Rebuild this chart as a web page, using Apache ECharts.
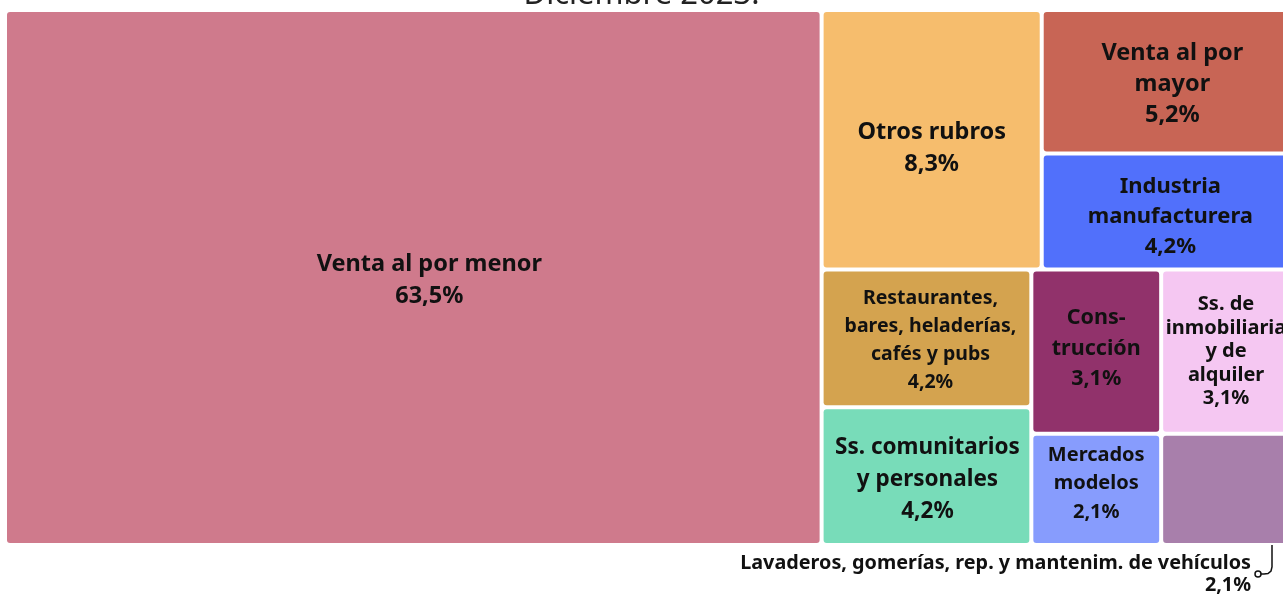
<!DOCTYPE html>
<html>
<head>
<meta charset="utf-8">
<title>Distribución por rubro - Diciembre 2023</title>
<script src="https://cdn.jsdelivr.net/npm/echarts@6/dist/echarts.min.js"></script>
<style>
  html, body { margin: 0; padding: 0; background: #fff; }
  #chart { width: 1283px; height: 597px; }
</style>
</head>
<body>
<div id="chart"></div>
<script>
// rubros, in the order the chart nests them
const rubros = [
  'Venta al por menor',
  'Otros rubros',
  'Venta al por mayor',
  'Industria manufacturera',
  'Restaurantes, bares, heladerías, cafés y pubs',
  'Ss. comunitarios y personales',
  'Construcción',
  'Ss. de inmobiliaria y de alquiler',
  'Mercados modelos',
  'Lavaderos, gomerías, rep. y mantenim. de vehículos'
]
// how each name is broken inside its box
const etiquetas = [
  'Venta al por menor',
  'Otros rubros',
  'Venta al por\nmayor',
  'Industria\nmanufacturera',
  'Restaurantes,\nbares, heladerías,\ncafés y pubs',
  'Ss. comunitarios\ny personales',
  'Cons-\ntrucción',
  'Ss. de\ninmobiliaria\ny de\nalquiler',
  'Mercados\nmodelos',
  ''
]
const porcentajes = [63.5, 8.3, 5.2, 4.2, 4.2, 4.2, 3.1, 3.1, 2.1, 2.1]
const colores = [
  '#cf7a8c', '#f6bd6d', '#c86555', '#5170fb', '#d4a34f',
  '#78dcb9', '#91326b', '#f5c7f2', '#879cfd', '#a87fab'
]

// label styling per box (kept apart from the data)
const tamanos = [23.5, 23.5, 23.5, 22, 19.5, 22.5, 21.5, 20, 20, 19]
const interlineas = [32, 32, 31, 30, 28, 32, 30.5, 23.5, 28.5, 22]
const desplaz = [[16, 3], [0, 9], [6, 3], [4, 5], [4, 2], [1, 3], [0, -3], [0, 0], [0, -6], [0, 0]]

const fmt = v => v.toFixed(1).replace('.', ',') + '%'

const leaves = rubros.map((name, i) => ({
  name,
  value: porcentajes[i],
  itemStyle: { color: colores[i], borderWidth: 2, borderColor: '#fff', borderRadius: 3 },
  label: {
    show: etiquetas[i] !== '',
    formatter: etiquetas[i] + '\n' + fmt(porcentajes[i]),
    fontSize: tamanos[i],
    lineHeight: interlineas[i],
    offset: desplaz[i]
  }
}))

// split the list in two halves by value, like a binary treemap,
// so the squarify layout of each pair gives the same blocks
function binario(items) {
  if (items.length === 1) return items[0]
  const total = items.reduce((s, d) => s + d.value, 0)
  const sums = [0]
  items.forEach(d => sums.push(sums[sums.length - 1] + d.value))
  const target = total / 2
  let k = 1
  while (k < items.length && sums[k] < target) k++
  if (k > 1 && target - sums[k - 1] < sums[k] - target) k--
  k = Math.min(Math.max(k, 1), items.length - 1)
  return {
    name: '',
    children: [binario(items.slice(0, k)), binario(items.slice(k))]
  }
}

const root = binario(leaves)

const chart = echarts.init(document.getElementById('chart'))

chart.setOption({
  animation: false,
  title: {
    text: 'Diciembre 2023.',
    left: 'center',
    top: -25,
    textStyle: { fontSize: 31, fontWeight: 'normal', color: '#222', fontFamily: 'Noto Sans' }
  },
  tooltip: { show: false },
  series: [
    {
      type: 'treemap',
      left: 5,
      top: 10,
      width: 1286,
      height: 535,
      roam: false,
      nodeClick: false,
      sort: false,
      squareRatio: 1,
      breadcrumb: { show: false },
      itemStyle: { borderWidth: 0, gapWidth: 0, borderColor: '#fff' },
      upperLabel: { show: false },
      label: {
        show: true,
        position: 'inside',
        color: '#111',
        fontFamily: 'Noto Sans',
        fontWeight: 'bold',
        align: 'center',
        verticalAlign: 'middle',
        overflow: 'none'
      },
      data: root.children
    }
  ],
  graphic: [
    {
      type: 'polyline',
      shape: {
        points: [[1272, 530], [1272, 567], [1271, 571], [1268, 573.5], [1264, 574], [1261, 574]]
      },
      style: { fill: null, stroke: '#111', lineWidth: 1.5 }
    },
    {
      type: 'circle',
      shape: { cx: 1258, cy: 574, r: 3 },
      style: { fill: '#fff', stroke: '#111', lineWidth: 1.5 }
    },
    {
      type: 'text',
      style: {
        text: rubros[9] + '\n' + fmt(porcentajes[9]),
        x: 1251,
        y: 552,
        align: 'right',
        fill: '#111',
        font: 'bold 19.8px "Noto Sans"',
        lineHeight: 22
      }
    }
  ]
})
</script>
</body>
</html>
